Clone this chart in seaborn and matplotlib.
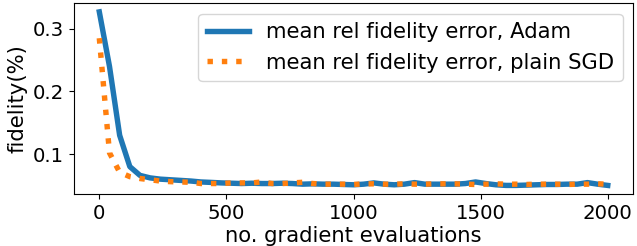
import numpy as np
import pandas as pd
import matplotlib
matplotlib.use("Agg")
import matplotlib.pyplot as plt
import seaborn as sns
from matplotlib.lines import Line2D

steps = list(range(0, 2001, 40))

adam = [0.327, 0.240, 0.130, 0.080, 0.066, 0.062, 0.060, 0.059, 0.058, 0.057,
        0.0555, 0.0548, 0.054, 0.0535, 0.053, 0.0535, 0.053, 0.053, 0.0535, 0.053,
        0.052, 0.0525, 0.052, 0.052, 0.0515, 0.051, 0.052, 0.054, 0.052, 0.051,
        0.052, 0.0545, 0.052, 0.052, 0.052, 0.052, 0.053, 0.0555, 0.053, 0.051,
        0.050, 0.050, 0.0505, 0.051, 0.0515, 0.0515, 0.052, 0.052, 0.0545, 0.052,
        0.050]

sgd = [0.285, 0.102, 0.071, 0.064, 0.061, 0.059, 0.057, 0.056, 0.0555, 0.055,
       0.053, 0.053, 0.053, 0.054, 0.054, 0.054, 0.0555, 0.053, 0.053, 0.054,
       0.055, 0.053, 0.052, 0.052, 0.052, 0.0515, 0.0525, 0.0525, 0.052, 0.052,
       0.0525, 0.052, 0.052, 0.0525, 0.0525, 0.0525, 0.052, 0.0515, 0.052, 0.0525,
       0.052, 0.052, 0.0515, 0.052, 0.052, 0.052, 0.0515, 0.052, 0.052, 0.0525,
       0.052]

labels = ["mean rel fidelity error, Adam", "mean rel fidelity error, plain SGD"]

df = pd.DataFrame({
    "step": steps * 2,
    "value": adam + sgd,
    "series": [labels[0]] * len(steps) + [labels[1]] * len(steps),
})

plt.rcParams['font.family'] = ['DejaVu Sans']
fig = plt.figure(figsize=(6.37, 2.46), dpi=100)
ax = fig.add_axes([0.116, 0.211, 0.878, 0.776])

sns.lineplot(data=df, x="step", y="value", hue="series", style="series",
             palette=["#1f77b4", "#ff7f0e"], dashes=[(None, None), (1, 1.65)],
             linewidth=3.9, ax=ax, legend=False)
ax.lines[1].set_linestyle(":")

fs = 15.2
ax.set_xticks([0, 500, 1000, 1500, 2000])
ax.set_yticks([0.1, 0.2, 0.3])
ax.tick_params(labelsize=14.2)
ax.set_xlabel("no. gradient evaluations", fontsize=fs, labelpad=2)
ax.set_ylabel("fidelity(%)", fontsize=fs, labelpad=4)

handles = [Line2D([], [], color="#1f77b4", lw=3.9),
           Line2D([], [], color="#ff7f0e", lw=3.9, linestyle=":")]
ax.legend(handles, labels, loc="upper right", fontsize=fs)

fig.savefig("out.png", dpi=100)
